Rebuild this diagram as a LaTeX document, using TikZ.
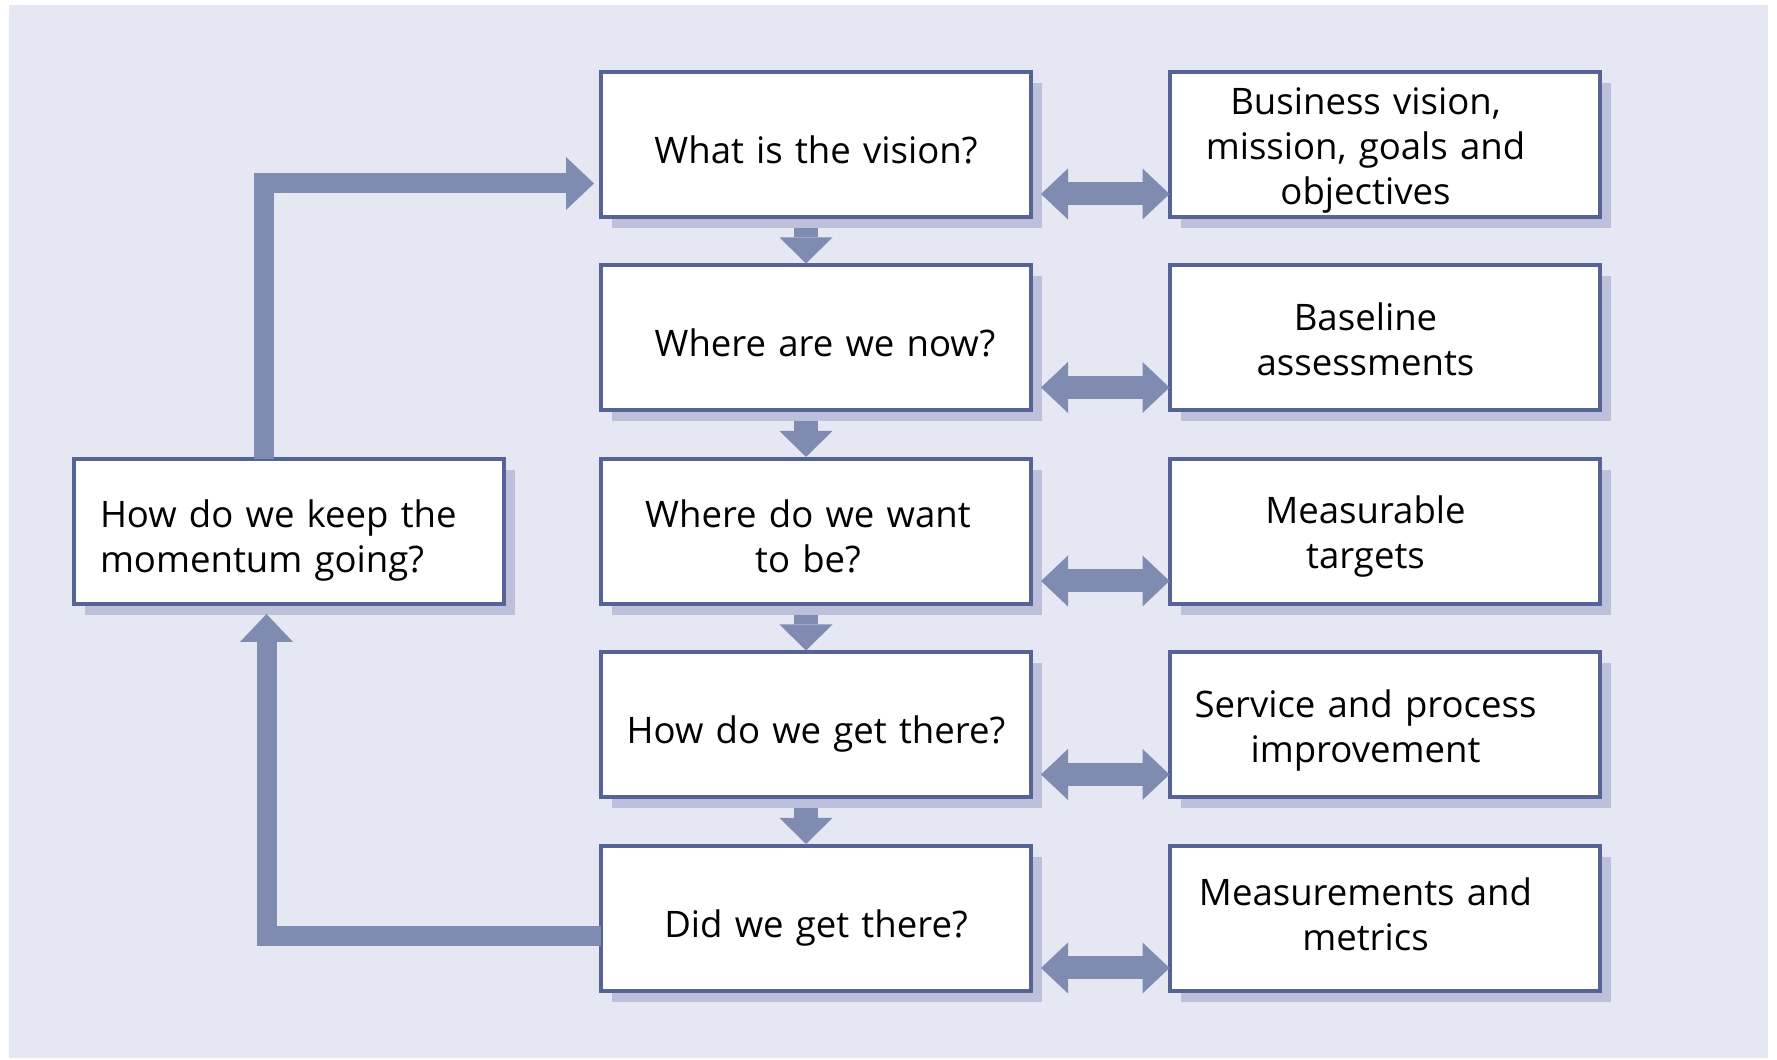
\documentclass[tikz,border=0pt]{standalone}
\usepackage{fontspec}
\setmainfont{Open Sans}
\usetikzlibrary{arrows.meta,positioning,shadows}
\usepackage{xcolor}
\definecolor{bgcol}{RGB}{229,232,242}
\definecolor{edgecol}{RGB}{86,99,150}
\definecolor{shadecol}{RGB}{188,192,218}
\definecolor{arrowcol}{RGB}{127,139,176}
\newcommand{\topstrut}{13.2pt}

\begin{document}
\begin{tikzpicture}[
    node distance=0.485cm,
    question/.style={rectangle,draw=edgecol,fill=white,line width=0.04cm,
        minimum width=4.3cm,minimum height=1.45cm,outer sep=0pt,
        inner xsep=0.09cm,inner ysep=0pt,
        text width=4.1cm,align=center,
        font=\fontsize{10.4}{12.8}\selectfont,
        execute at begin node={\rule{0pt}{\topstrut}},
        execute at end node={\rule[-2.4pt]{0pt}{2.4pt}},
        drop shadow={shadow xshift=0.11cm,shadow yshift=-0.11cm,fill=shadecol,opacity=1}},
    shifttext/.style={execute at begin node={\advance\leftskip by #1\relax\advance\rightskip by -#1\relax}},
    answer/.style={question,shifttext=-0.19cm,/utils/exec={\def\topstrut{11pt}}},
    stepdown/.style={arrowcol,line width=0.24cm,
        -{Triangle[length=0.26cm,width=0.53cm,line width=0pt]}},
    both/.style={arrowcol,line width=0.23cm,
        {Triangle[length=0.27cm,width=0.51cm,line width=0pt]}-{Triangle[length=0.27cm,width=0.51cm,line width=0pt]}},
    loopback/.style={arrowcol,line width=0.2cm,line join=miter,
        -{Triangle[length=0.28cm,width=0.53cm,line width=0pt]}}
]

% Background
\useasboundingbox (0,0) rectangle (17.77,10.60);
\fill[bgcol] (0.09,0.02) rectangle (17.68,10.55);

% Questions
\node[question] (vision) at (8.16,9.155) {What is the vision?};
\node[question,shifttext=0.09cm,below=of vision] (now) {Where are we now?};
\node[question,shifttext=-0.08cm,below=of now] (want) {Where do we want\\ to be?};
\node[question,below=of want] (route) {How do we get there?};
\node[question,below=of route] (check) {Did we get there?};

% Answers
\node[answer,right=1.385cm of vision] (goals) {Business vision,\\ mission, goals and\\ objectives};
\node[answer,right=1.385cm of now] (baseline) {Baseline\\ assessments};
\node[answer,right=1.385cm of want] (targets) {Measurable\\ targets};
\node[answer,right=1.385cm of route] (improve) {Service and process\\ improvement};
\node[answer,/utils/exec={\def\topstrut{8pt}},right=1.385cm of check] (metrics) {Measurements and\\ metrics};

% Keeping the momentum
\node[question,left=0.97cm of want,text width=3.78cm,align=left] (keep) {How do we keep the\\ momentum going?};

% Steps between questions
\foreach \a/\b in {vision/now,now/want,want/route,route/check}
  \draw[stepdown] ([xshift=-0.1cm,yshift=-0.11cm]\a.south) -- ([xshift=-0.1cm,yshift=0.02cm]\b.north);

% Questions and answers
\foreach \q/\r in {vision/goals,now/baseline,want/targets,route/improve,check/metrics}
  \draw[both] ([shift={(0.1,0.23)}]\q.south east) -- ([yshift=0.23cm]\r.south west);

% Feedback loop
\draw[loopback] ([xshift=-0.255cm]keep.north) |- ([shift={(-0.07,-0.39)}]vision.west);
\draw[loopback] ([yshift=-0.175cm]check.west) -| ([shift={(-0.225,-0.1)}]keep.south);

\end{tikzpicture}
\end{document}
